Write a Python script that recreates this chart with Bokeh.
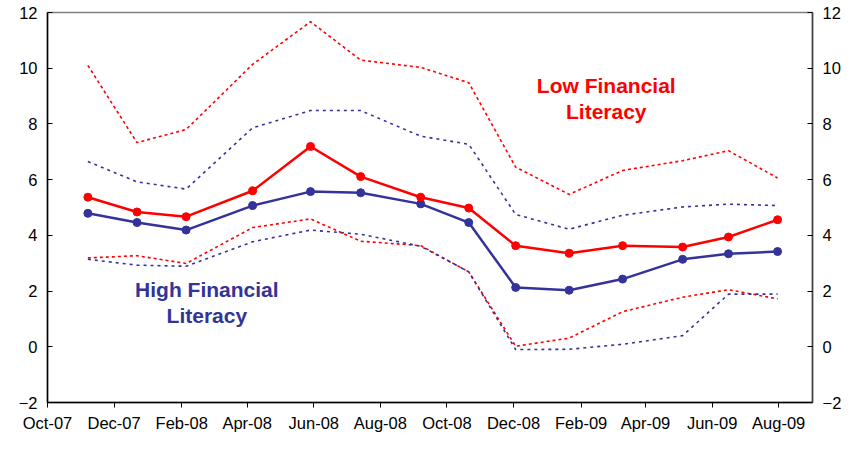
import pandas as pd
from bokeh.plotting import figure
from bokeh.models import LinearAxis, FixedTicker, DatetimeTickFormatter, Label, Range1d
from bokeh.embed import file_html
from bokeh.resources import INLINE

# ---- data ----
survey_dates = ["2007-11-07", "2007-12-22", "2008-02-05", "2008-04-06", "2008-05-29",
                "2008-07-14", "2008-09-07", "2008-10-21", "2008-12-03", "2009-01-21",
                "2009-03-11", "2009-05-05", "2009-06-16", "2009-07-31"]
low_fl = [5.37, 4.84, 4.67, 5.60, 7.19, 6.11, 5.37, 4.98, 3.63, 3.36, 3.63, 3.58, 3.94, 4.56]
low_fl_upper = [10.10, 7.33, 7.80, 10.14, 11.67, 10.29, 10.03, 9.48, 6.45, 5.47, 6.33, 6.68, 7.04, 6.06]
low_fl_lower = [3.19, 3.27, 2.99, 4.28, 4.59, 3.79, 3.63, 2.69, 0.02, 0.31, 1.26, 1.78, 2.05, 1.72]
high_fl = [4.79, 4.46, 4.19, 5.07, 5.57, 5.53, 5.13, 4.46, 2.13, 2.03, 2.43, 3.14, 3.34, 3.42]
high_fl_upper = [6.65, 5.92, 5.66, 7.86, 8.48, 8.48, 7.56, 7.27, 4.75, 4.22, 4.72, 5.02, 5.12, 5.07]
high_fl_lower = [3.14, 2.93, 2.89, 3.77, 4.19, 4.04, 3.61, 2.69, -0.10, -0.09, 0.09, 0.40, 1.89, 1.89]
x_tick_dates = ["2007-10-01", "2007-12-01", "2008-02-01", "2008-04-01", "2008-06-01", "2008-08-01",
                "2008-10-01", "2008-12-01", "2009-02-01", "2009-04-01", "2009-06-01", "2009-08-01"]
y_ticks = [-2, 0, 2, 4, 6, 8, 10, 12]
x_start, x_end = "2007-10-01", "2009-09-01"

RED = "#FF0000"
BLUE = "#333399"
FONT = "Liberation Sans"


def ms(d):
    return pd.Timestamp(d).timestamp() * 1000.0


x = [ms(d) for d in survey_dates]

p = figure(width=844, height=434, x_axis_type="datetime",
           x_range=Range1d(ms(x_start), ms(x_end)), y_range=Range1d(-2, 12),
           output_backend="svg", toolbar_location=None,
           min_border_left=47, min_border_right=30, min_border_top=12, min_border_bottom=30)

p.background_fill_color = "white"
p.border_fill_color = "white"
p.outline_line_color = "#808080"
p.outline_line_width = 1.5
p.xgrid.visible = False
p.ygrid.visible = False

# dashed confidence bands
p.line(x, low_fl_upper, line_color=RED, line_width=1.6, line_dash="3 3")
p.line(x, low_fl_lower, line_color=RED, line_width=1.6, line_dash="3 3")
p.line(x, high_fl_upper, line_color=BLUE, line_width=1.6, line_dash="3 4")
p.line(x, high_fl_lower, line_color=BLUE, line_width=1.6, line_dash="3 4")

# main lines
p.line(x, high_fl, line_color=BLUE, line_width=2.5)
p.scatter(x, high_fl, size=8, fill_color=BLUE, line_color=BLUE)
p.line(x, low_fl, line_color=RED, line_width=2.5)
p.scatter(x, low_fl, size=8, fill_color=RED, line_color=RED)

# axes
xt = FixedTicker(ticks=[ms(d) for d in x_tick_dates])
p.xaxis.ticker = xt
fmt = "%b-%y"
p.xaxis.formatter = DatetimeTickFormatter(months=fmt, days=fmt, years=fmt, hours=fmt,
                                          minutes=fmt, seconds=fmt, milliseconds=fmt,
                                          microseconds=fmt, hourmin=fmt, minsec=fmt)
p.xaxis.major_tick_in = 0
p.xaxis.major_tick_out = 5
p.xaxis.minor_tick_line_color = None
p.xaxis.axis_line_color = "black"
p.xaxis.axis_line_width = 1.5
p.xaxis.major_tick_line_color = "black"
p.xaxis.major_label_standoff = 6
p.xaxis.major_label_text_font = FONT
p.xaxis.major_label_text_font_size = "16.5px"
p.xaxis.major_label_text_color = "black"

yt = FixedTicker(ticks=y_ticks)


def style_y(ax):
    ax.ticker = yt
    ax.major_tick_in = 5
    ax.major_tick_out = 0
    ax.minor_tick_line_color = None
    ax.axis_line_color = "black"
    ax.axis_line_width = 1.5
    ax.major_tick_line_color = "black"
    ax.major_label_standoff = 10
    ax.major_label_text_font = FONT
    ax.major_label_text_font_size = "16.5px"
    ax.major_label_text_color = "black"


style_y(p.yaxis[0])
right_axis = LinearAxis()
style_y(right_axis)
right_axis.axis_line_color = "#404040"
p.add_layout(right_axis, "right")

# annotations
for txt, xd, yv, col in [("Low Financial", "2009-02-24", 9.38, RED),
                         ("Literacy", "2009-02-24", 8.46, RED),
                         ("High Financial", "2008-02-24", 2.07, BLUE),
                         ("Literacy", "2008-02-24", 1.13, BLUE)]:
    p.add_layout(Label(x=ms(xd), y=yv, text=txt, text_color=col, text_font=FONT,
                       text_font_style="bold", text_font_size="21px",
                       text_align="center", text_baseline="middle"))

open("out.html", "w").write(file_html(p, INLINE))
